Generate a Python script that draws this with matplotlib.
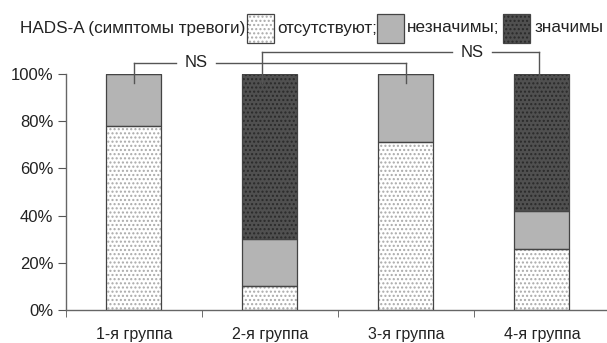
import numpy as np
import matplotlib.pyplot as plt
from matplotlib.patches import Rectangle

plt.rcParams['font.family'] = ['Liberation Sans', 'DejaVu Sans']

# data (shares, %)
groups = ["1-я группа", "2-я группа", "3-я группа", "4-я группа"]
absent = [78, 10, 71, 26]       # отсутствуют
minor = [22, 20, 29, 16]        # незначимы
significant = [0, 70, 0, 58]    # значимы
legend_title = "HADS-A (симптомы тревоги):"
legend_labels = ["отсутствуют;", "незначимы;", "значимы"]
y_ticks = [0, 20, 40, 60, 80, 100]

fig = plt.figure(figsize=(6.07, 3.43), dpi=100)
ax = fig.add_axes([0.1087, 0.0962, 0.896, 0.688])

x = np.arange(len(groups))
w = 0.405
edge = "#444444"

# (face colour, hatch, hatch colour)
styles = [("white", "....", "#aaaaaa"),
          ("#b4b4b4", None, None),
          ("#505050", "....", "#2a2a2a")]

bottom = np.zeros(len(groups))
for vals, (fc, hatch, hc) in zip([absent, minor, significant], styles):
    vals = np.array(vals, dtype=float)
    ax.bar(x, vals, w, bottom=bottom, color=fc, edgecolor=hc if hc else fc,
           hatch=hatch, linewidth=0, zorder=2)
    ax.bar(x, vals, w, bottom=bottom, fill=False, edgecolor=edge,
           linewidth=0.9, zorder=3)
    bottom += vals

ax.set_xlim(-0.5, 3.5)
ax.set_ylim(0, 100)
ax.set_yticks(y_ticks)
ax.set_yticklabels([f"{t}%" for t in y_ticks], fontsize=12)
ax.set_xticks(x)
ax.set_xticklabels(groups, fontsize=11.5)
ax.set_xticks(np.arange(-0.5, 4, 1), minor=True)
ax.tick_params(axis="x", which="major", length=0, pad=12)
ax.tick_params(axis="x", which="minor", length=5, direction="out", color="#555555")
ax.tick_params(axis="y", length=6, direction="out", color="#555555", pad=3)
ax.tick_params(labelcolor="#222222")
for s in ["top", "right"]:
    ax.spines[s].set_visible(False)
for s in ["left", "bottom"]:
    ax.spines[s].set_color("#666666")
    ax.spines[s].set_linewidth(1)

# NS brackets
lc = "#555555"
def bracket(x1, x2, y, xt, gap):
    kw = dict(color=lc, lw=1, clip_on=False, zorder=4)
    ax.plot([x1, x1], [96, y], **kw)
    ax.plot([x2, x2], [96, y], **kw)
    ax.plot([x1, xt - gap], [y, y], **kw)
    ax.plot([xt + gap, x2], [y, y], **kw)
    ax.text(xt, y, "NS", ha="center", va="center", fontsize=12,
            color="#222222", clip_on=False)

bracket(0, 2, 104.7, 0.456, 0.15)
bracket(0.94, 2.98, 109.3, 2.485, 0.145)

# legend drawn across the top
fig.text(20 / 607, 1 - 28 / 343, legend_title, ha="left", va="center",
         fontsize=12.3, color="#222222")
box_x = [247, 377, 503]
text_x = [277, 407, 535]
for bx, tx, lab, (fc, hatch, hc) in zip(box_x, text_x, legend_labels, styles):
    r = Rectangle((bx / 607, 1 - 43 / 343), 27 / 607, 29 / 343,
                  transform=fig.transFigure, facecolor=fc,
                  edgecolor=hc if hc else fc, hatch=hatch, linewidth=0)
    fig.patches.append(r)
    fig.patches.append(Rectangle((bx / 607, 1 - 43 / 343), 27 / 607, 29 / 343,
                                 transform=fig.transFigure, fill=False,
                                 edgecolor=edge, linewidth=0.9))
    fig.text(tx / 607, 1 - 28 / 343, lab, ha="left", va="center",
             fontsize=12.3, color="#222222")

fig.savefig("out.png", dpi=100)
